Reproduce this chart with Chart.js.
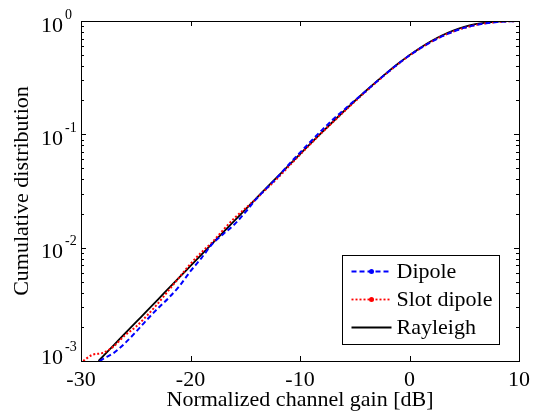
<!DOCTYPE html>
<html>
<head>
  <title>Cumulative distribution</title>
  <script src="https://cdn.jsdelivr.net/npm/chart.js"></script>
  <style>
    body { margin: 0; background: #fff; }
  </style>
</head>
<body>
  <canvas id="cdfChart" width="536" height="413"></canvas>

  <script>
    // values
    const rayleighGain = [-28.4, -28, -27, -26, -25, -24, -23, -22, -21, -20, -19, -18, -17, -16, -15, -14, -13, -12, -11, -10,
      -9, -8, -7, -6, -5, -4, -3, -2, -1, 0, 1, 2, 3, 4, 5, 6, 7, 8, 9, 10];
    const rayleighCdf = [0.001001, 0.001098, 0.001382, 0.00174, 0.00219, 0.002755, 0.003468, 0.004363, 0.005491, 0.006907,
      0.008688, 0.010925, 0.01373, 0.01726, 0.02168, 0.02721, 0.03414, 0.04279, 0.05357, 0.06696,
      0.08356, 0.1040, 0.1291, 0.1598, 0.1968, 0.2411, 0.2935, 0.3543, 0.4234, 0.5,
      0.5821, 0.6667, 0.7492, 0.8247, 0.8883, 0.9366, 0.9690, 0.9874, 0.9959, 0.9990];

    const dipoleGain = [-28.3, -28, -27, -26, -25, -24, -23, -22, -21, -20, -19, -18, -17, -16, -15, -14, -12, -11, -10,
      -9, -8, -7, -6, -5, -4, -2, 0, 2, 3, 4, 5, 6, 7, 8, 9, 10];
    const dipoleCdf = [0.001, 0.00104, 0.00118, 0.00143, 0.0018, 0.0023, 0.0029, 0.0036, 0.0046, 0.0062,
      0.0081, 0.0108, 0.0132, 0.0160, 0.0205, 0.0268, 0.0425, 0.0545, 0.069,
      0.087, 0.109, 0.135, 0.164, 0.199, 0.240, 0.352, 0.497, 0.655, 0.735, 0.806, 0.869, 0.918, 0.955, 0.978, 0.992, 0.999];

    const slotGain = [-29.8, -29, -28, -27, -26, -25, -24, -23, -22, -21, -20, -19, -18, -17, -16, -15, -14, -13, -12, -11, -10,
      -9, -8, -7, -6, -4, -2, 0, 2, 3, 4, 5, 6, 7, 8, 9, 10];
    const slotCdf = [0.0010, 0.00113, 0.00118, 0.00135, 0.00168, 0.0020, 0.0025, 0.0032, 0.0042, 0.0055, 0.0072,
      0.0091, 0.0112, 0.0144, 0.0182, 0.0222, 0.0270, 0.0335, 0.0415, 0.0525, 0.066,
      0.0830, 0.1035, 0.128, 0.158, 0.238, 0.350, 0.496, 0.657, 0.737, 0.808, 0.871, 0.920, 0.957, 0.980, 0.993, 0.999];

    const xTicks = [-30, -20, -10, 0, 10];
    const yDecades = [1, 0.1, 0.01, 0.001];
    const yExponents = ['0', '-1', '-2', '-3'];

    const serif = '"Liberation Serif", "Times New Roman", serif';

    function toPoints(xs, ys) {
      return xs.map((x, i) => ({ x: x, y: ys[i] }));
    }

    // legend entries drawn by hand so the sample can hold a dash + marker
    const legendItems = [
      { label: 'Dipole', color: '#0000ff', dash: [5, 3], marker: true },
      { label: 'Slot dipole', color: '#ff0000', dash: [2, 2], marker: true },
      { label: 'Rayleigh', color: '#000000', dash: [], marker: false }
    ];

    const matlabAxes = {
      id: 'matlabAxes',
      afterDraw(chart) {
        const ctx = chart.ctx;
        const area = chart.chartArea;
        const xs = chart.scales.x;
        const ys = chart.scales.y;
        ctx.save();
        ctx.strokeStyle = '#000';
        ctx.lineWidth = 1;
        ctx.setLineDash([]);

        // box
        ctx.strokeRect(Math.round(area.left) + 0.5, Math.round(area.top) + 0.5,
          Math.round(area.right - area.left), Math.round(area.bottom - area.top));

        // x ticks, inward on bottom and top
        ctx.beginPath();
        xTicks.forEach(v => {
          const px = Math.round(xs.getPixelForValue(v)) + 0.5;
          ctx.moveTo(px, area.bottom); ctx.lineTo(px, area.bottom - 5);
          ctx.moveTo(px, area.top); ctx.lineTo(px, area.top + 5);
        });
        // y ticks, major and minor
        yDecades.forEach(d => {
          for (let m = 1; m <= 9; m++) {
            const v = d * m;
            if (v > 1.0001 || v < 0.001) continue;
            const py = Math.round(ys.getPixelForValue(v)) + 0.5;
            const len = m === 1 ? 5 : 3;
            ctx.moveTo(area.left, py); ctx.lineTo(area.left + len, py);
            ctx.moveTo(area.right, py); ctx.lineTo(area.right - len, py);
          }
        });
        ctx.stroke();

        // y tick labels 10^n (bottom one lifted a little, as in the original)
        ctx.fillStyle = '#000';
        ctx.textBaseline = 'middle';
        yDecades.forEach((d, i) => {
          const lift = i === yDecades.length - 1 ? -3 : 5;
          const py = ys.getPixelForValue(d) + lift;
          ctx.font = '22px ' + serif;
          ctx.textAlign = 'right';
          ctx.fillText('10', area.left - 18, py);
          ctx.font = '14px ' + serif;
          ctx.textAlign = 'left';
          ctx.fillText(yExponents[i], area.left - 16, py - 11);
        });

        // legend
        const lw = 157, lh = 89;
        const lx = Math.round(area.right - 20 - lw) + 0.5;
        const ly = Math.round(area.bottom - 17 - lh) + 0.5;
        ctx.fillStyle = '#fff';
        ctx.fillRect(lx, ly, lw, lh);
        ctx.strokeStyle = '#000';
        ctx.lineWidth = 1;
        ctx.strokeRect(lx, ly, lw, lh);
        legendItems.forEach((item, i) => {
          const ry = ly + 16 + i * 28;
          ctx.strokeStyle = item.color;
          ctx.lineWidth = 1.8;
          ctx.setLineDash(item.dash);
          ctx.beginPath();
          ctx.moveTo(lx + 9, ry); ctx.lineTo(lx + 49, ry);
          ctx.stroke();
          ctx.setLineDash([]);
          if (item.marker) {
            ctx.fillStyle = item.color;
            ctx.beginPath();
            ctx.arc(lx + 29, ry, 2.5, 0, Math.PI * 2);
            ctx.fill();
          }
          ctx.fillStyle = '#000';
          ctx.font = '22px ' + serif;
          ctx.textAlign = 'left';
          ctx.fillText(item.label, lx + 54, ry + 1);
        });
        ctx.restore();
      }
    };

    new Chart(document.getElementById('cdfChart'), {
      type: 'line',
      data: {
        datasets: [
          {
            label: 'Dipole',
            data: toPoints(dipoleGain, dipoleCdf),
            borderColor: '#0000ff',
            borderWidth: 2,
            borderDash: [5, 3],
            pointRadius: 0,
            cubicInterpolationMode: 'monotone'
          },
          {
            label: 'Slot dipole',
            data: toPoints(slotGain, slotCdf),
            borderColor: '#ff0000',
            borderWidth: 2,
            borderDash: [2, 2],
            pointRadius: 0,
            cubicInterpolationMode: 'monotone'
          },
          {
            label: 'Rayleigh',
            data: toPoints(rayleighGain, rayleighCdf),
            borderColor: '#000000',
            borderWidth: 1.8,
            pointRadius: 0,
            cubicInterpolationMode: 'monotone'
          }
        ]
      },
      options: {
        responsive: false,
        animation: false,
        layout: { padding: { top: 21, right: 12, left: 0, bottom: 0 } },
        plugins: {
          legend: { display: false },
          tooltip: { enabled: false }
        },
        scales: {
          x: {
            type: 'linear',
            min: -30,
            max: 10,
            afterFit: s => { s.height = 52; },
            afterBuildTicks: s => { s.ticks = xTicks.map(v => ({ value: v })); },
            grid: { display: false, drawTicks: false, tickLength: 0 },
            border: { display: false },
            ticks: {
              color: '#000',
              padding: 6,
              maxRotation: 0,
              font: { family: serif, size: 22 }
            },
            title: {
              display: true,
              text: 'Normalized channel gain [dB]',
              color: '#000',
              padding: { top: 0, bottom: 0 },
              font: { family: serif, size: 22 }
            }
          },
          y: {
            type: 'logarithmic',
            min: 0.001,
            max: 1,
            afterFit: s => { s.width = 81; },
            grid: { display: false, drawTicks: false },
            border: { display: false },
            ticks: { display: false },
            title: {
              display: true,
              text: 'Cumulative distribution',
              color: '#000',
              padding: { top: 9, bottom: 0 },
              font: { family: serif, size: 22 }
            }
          }
        }
      },
      plugins: [matlabAxes]
    });
  </script>
</body>
</html>
